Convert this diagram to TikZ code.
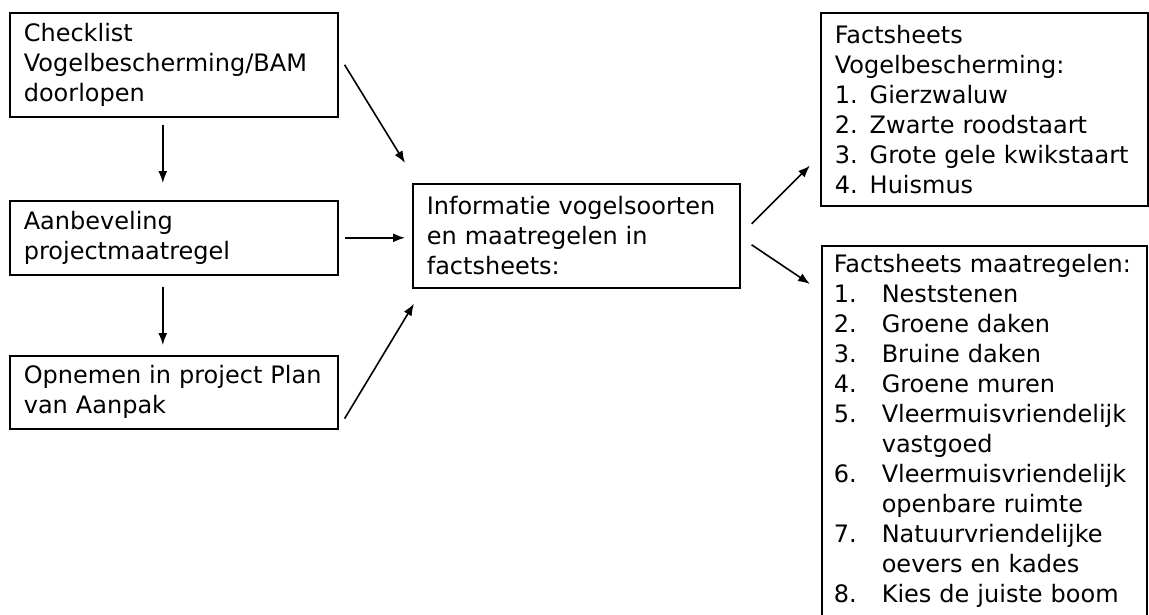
\documentclass[tikz,border=0pt]{standalone}
\usepackage{fontspec}
\setmainfont{DejaVu Sans}
\usetikzlibrary{arrows.meta}

\tikzset{
	box/.style={draw, line width=1.6pt, anchor=north west, align=left,
		inner xsep=14pt, inner ysep=0pt,
		font=\fontsize{24}{30}\selectfont},
	arr/.style={line width=1.6pt, -{Latex[length=12pt,width=9pt]}},
}
\newcommand{\fsnr}[2]{\makebox[48pt][l]{#1}#2}
\newcommand{\fsind}{\hspace*{48pt}}

\begin{document}
\begin{tikzpicture}[x=1pt, y=-1pt]

		\useasboundingbox (0,0) rectangle (1149,614);
		\clip (0,0) rectangle (1149,614);

		\node[box, text width=300pt, minimum height=104pt] (check) at (9,12) {Checklist\\Vogelbescherming/BAM\\doorlopen};
		\node[box, text width=300pt, minimum height=74pt] (advies) at (9,200) {Aanbeveling\\projectmaatregel};
		\node[box, text width=300pt, minimum height=73pt] (plan) at (9,355) {Opnemen in project Plan\\van Aanpak};

		\node[box, text width=299pt, minimum height=104pt] (info) at (412,183) {Informatie vogelsoorten\\en maatregelen in\\factsheets:};

		\node[box, text width=299pt, minimum height=193pt] (vogels) at (820,12) {Factsheets\\Vogelbescherming:\\1. Gierzwaluw\\2. Zwarte roodstaart\\3. Grote gele kwikstaart\\4. Huismus};
		\node[box, text width=301pt, inner xsep=12pt, inner ysep=8.8pt, text depth=355pt] (maatr) at (821,245) {\mbox{Factsheets maatregelen:}\\
			\fsnr{1.}{Neststenen}\\
			\fsnr{2.}{Groene daken}\\
			\fsnr{3.}{Bruine daken}\\
			\fsnr{4.}{Groene muren}\\
			\fsnr{5.}{Vleermuisvriendelijk}\\
			\fsind vastgoed\\
			\fsnr{6.}{Vleermuisvriendelijk}\\
			\fsind openbare ruimte\\
			\fsnr{7.}{Natuurvriendelijke}\\
			\fsind oevers en kades\\
			\fsnr{8.}{Kies de juiste boom}};

		\draw[arr] ([xshift=-11pt, yshift=-7pt]check.south) -- ([xshift=-11pt, yshift=17pt]advies.north);
		\draw[arr] ([xshift=-11pt, yshift=-11pt]advies.south) -- ([xshift=-11pt, yshift=10pt]plan.north);

		\draw[arr] ([xshift=6pt]check.east) -- ([xshift=-7pt, yshift=20pt]info.north west);
		\draw[arr, shorten >=7pt] ([xshift=6pt]advies.east) -- (advies.east -| info.west);
		\draw[arr] ([xshift=6pt, yshift=11pt]plan.south east) -- ([xshift=2pt, yshift=-15pt]info.south west);

		\draw[arr] ([xshift=11pt, yshift=12pt]info.east) -- ([xshift=-10pt, yshift=41pt]vogels.south west);
		\draw[arr] ([xshift=11pt, yshift=-9pt]info.east) -- ([xshift=-11pt, yshift=-39pt]maatr.north west);

	\end{tikzpicture}
\end{document}
